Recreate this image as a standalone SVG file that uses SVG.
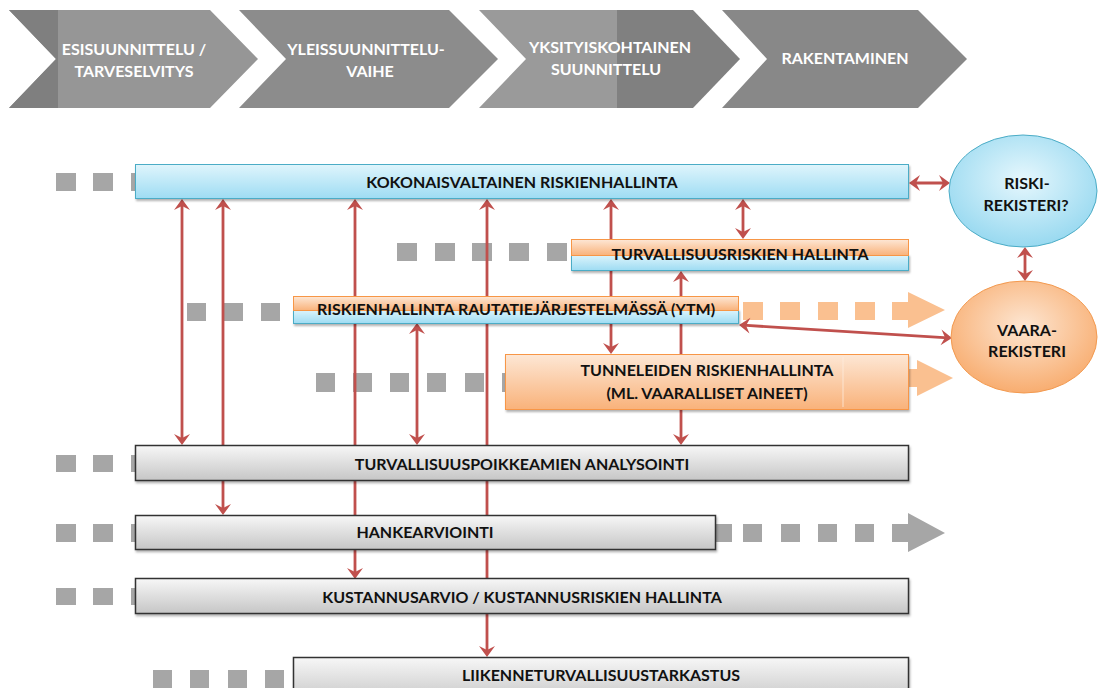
<svg xmlns="http://www.w3.org/2000/svg" width="1098" height="688" viewBox="0 0 1098 688">
<defs>
<style>
.ct{fill:#ffffff;font-family:Lato,"Liberation Sans",sans-serif;font-weight:700;font-size:16px;text-anchor:middle}
.lbl{fill:#111111;font-family:Lato,"Liberation Sans",sans-serif;font-weight:700;font-size:16px;text-anchor:middle}
.sq{fill:#a6a6a6}
.osq{fill:#fac090}
.conn{stroke:#c0504d;stroke-width:2.8;fill:none;marker-start:url(#ah);marker-end:url(#ah)}
.blue{fill:url(#gBlue);stroke:#4bacc6;stroke-width:1}
.org{fill:url(#gOrange);stroke:#f79646;stroke-width:1}
.gray{fill:url(#gGray);stroke:#333333;stroke-width:1.5}
</style>
<linearGradient id="gBlue" x1="0" y1="0" x2="0" y2="1"><stop offset="0" stop-color="#dff5fc"/><stop offset="1" stop-color="#9edcf3"/></linearGradient>
<linearGradient id="gOrange" x1="0" y1="0" x2="0" y2="1"><stop offset="0" stop-color="#fde7d5"/><stop offset="1" stop-color="#f9b27a"/></linearGradient>
<linearGradient id="gGray" x1="0" y1="0" x2="0" y2="1"><stop offset="0" stop-color="#f7f7f7"/><stop offset="1" stop-color="#c6c6c6"/></linearGradient>
<radialGradient id="eBlue" cx="0.5" cy="0.4" r="0.6"><stop offset="0" stop-color="#e6f7fd"/><stop offset="1" stop-color="#98d9f0"/></radialGradient>
<radialGradient id="eOrange" cx="0.5" cy="0.4" r="0.6"><stop offset="0" stop-color="#fde6d2"/><stop offset="1" stop-color="#f8ad70"/></radialGradient>
<filter id="sh" x="-5%" y="-20%" width="110%" height="160%"><feDropShadow dx="1" dy="2" stdDeviation="1.2" flood-color="#000000" flood-opacity="0.3"/></filter>
<marker id="ah" viewBox="-8 -9 13 18" refX="0" refY="0" markerWidth="13" markerHeight="18" markerUnits="userSpaceOnUse" orient="auto-start-reverse"><path d="M-7,-8 L4,0 L-7,8 L-3,0 z" fill="#c0504d"/></marker>
</defs>
<rect width="1098" height="688" fill="#ffffff"/>

<g id="phases">
 <g id="phase1">
  <polygon points="9,10 210,10 258,59 210,108 9,108 56,59" fill="#969696"/>
  <polygon points="9,10 58,10 58,108 9,108 56,59" fill="#7f7f7f"/>
  <text class="ct" x="134" y="55">ESISUUNNITTELU /</text>
  <text class="ct" x="134" y="77">TARVESELVITYS</text>
 </g>
 <g id="phase2">
  <polygon points="239,10 449,10 498,59 449,108 239,108 286,59" fill="#8c8c8c"/>
  <text class="ct" x="366" y="55">YLEISSUUNNITTELU-</text>
  <text class="ct" x="370" y="77">VAIHE</text>
 </g>
 <g id="phase3">
  <polygon points="479,10 617,10 617,108 479,108 526,59" fill="#9a9a9a"/>
  <polygon points="617,10 693,10 740,59 693,108 617,108" fill="#808080"/>
  <text class="ct" x="610" y="53">YKSITYISKOHTAINEN</text>
  <text class="ct" x="606" y="75">SUUNNITTELU</text>
 </g>
 <g id="phase4">
  <polygon points="722,10 918,10 967,59 918,108 722,108 767,59" fill="#888888"/>
  <text class="ct" x="845" y="64">RAKENTAMINEN</text>
 </g>
</g>

<g id="tracks">
 <rect class="sq" x="56" y="173" width="20" height="18"/><rect class="sq" x="93" y="173" width="20" height="18"/><rect class="sq" x="131" y="173" width="20" height="18"/>
 <rect class="sq" x="397" y="243" width="20" height="18"/><rect class="sq" x="435" y="243" width="20" height="18"/><rect class="sq" x="472" y="243" width="20" height="18"/><rect class="sq" x="509" y="243" width="20" height="18"/><rect class="sq" x="547" y="243" width="20" height="18"/>
 <rect class="sq" x="187" y="303" width="19" height="18"/><rect class="sq" x="224" y="303" width="19" height="18"/><rect class="sq" x="261" y="303" width="19" height="18"/>
 <rect class="osq" x="743" y="302" width="20" height="18"/><rect class="osq" x="780" y="302" width="20" height="18"/><rect class="osq" x="818" y="302" width="20" height="18"/><rect class="osq" x="855" y="302" width="20" height="18"/>
 <path class="osq" d="M892,302 H908 V292 L945,310 L908,328 V320 H892 Z"/>
 <rect class="sq" x="316" y="373" width="19" height="19"/><rect class="sq" x="353" y="373" width="19" height="19"/><rect class="sq" x="390" y="373" width="19" height="19"/><rect class="sq" x="427" y="373" width="19" height="19"/><rect class="sq" x="465" y="373" width="19" height="19"/><rect class="sq" x="502" y="373" width="19" height="19"/>
 <path class="osq" d="M905,369 H917 V360 L953,378 L917,396 V387 H905 Z"/>
 <rect class="sq" x="56" y="455" width="20" height="17"/><rect class="sq" x="93" y="455" width="20" height="17"/><rect class="sq" x="131" y="455" width="20" height="17"/>
 <rect class="sq" x="56" y="524" width="20" height="18"/><rect class="sq" x="93" y="524" width="20" height="18"/><rect class="sq" x="131" y="524" width="20" height="18"/>
 <rect class="sq" x="712" y="524" width="20" height="18"/><rect class="sq" x="743" y="524" width="19" height="18"/><rect class="sq" x="781" y="524" width="19" height="18"/><rect class="sq" x="818" y="524" width="19" height="18"/><rect class="sq" x="855" y="524" width="19" height="18"/>
 <path class="sq" d="M892,524 H908 V513 L945,533 L908,552 V542 H892 Z"/>
 <rect class="sq" x="56" y="588" width="20" height="17"/><rect class="sq" x="93" y="588" width="20" height="17"/><rect class="sq" x="131" y="588" width="20" height="17"/>
 <rect class="sq" x="153" y="670" width="19" height="19"/><rect class="sq" x="190" y="670" width="19" height="19"/><rect class="sq" x="228" y="670" width="19" height="19"/><rect class="sq" x="265" y="670" width="19" height="19"/>
</g>

<g id="connectors">
 <line class="conn" x1="182" y1="203" x2="182" y2="441"/>
 <line class="conn" x1="223" y1="203" x2="223" y2="511"/>
 <line class="conn" x1="355" y1="203" x2="355" y2="575"/>
 <line class="conn" x1="487" y1="203" x2="487" y2="653"/>
 <line class="conn" x1="611" y1="203" x2="611" y2="350"/>
 <line class="conn" x1="743" y1="203" x2="743" y2="235"/>
 <line class="conn" x1="681" y1="275" x2="681" y2="441"/>
 <line class="conn" x1="417" y1="327" x2="417" y2="441"/>
 <line class="conn" x1="913" y1="183" x2="946" y2="183"/>
 <line class="conn" x1="1025" y1="251" x2="1025" y2="277"/>
 <line class="conn" x1="743" y1="325.2" x2="948" y2="337.8"/>
</g>

<g id="n-kokonais">
 <rect class="blue" x="135.5" y="164.5" width="773" height="34" filter="url(#sh)"/>
 <text class="lbl" x="522" y="188">KOKONAISVALTAINEN RISKIENHALLINTA</text>
</g>
<g id="n-turvallisuusriskien">
 <rect class="blue" x="571.5" y="254.5" width="337" height="16" filter="url(#sh)"/>
 <rect class="org" x="571.5" y="239.5" width="337" height="16"/>
 <text class="lbl" x="740" y="260">TURVALLISUUSRISKIEN HALLINTA</text>
</g>
<g id="n-ytm">
 <rect class="blue" x="293.5" y="309.5" width="445" height="14" filter="url(#sh)"/>
 <rect class="org" x="293.5" y="296.5" width="445" height="14"/>
 <text class="lbl" x="516" y="315">RISKIENHALLINTA RAUTATIEJÄRJESTELMÄSSÄ (YTM)</text>
</g>
<g id="n-tunnelit">
 <rect class="org" x="505.5" y="354.5" width="403" height="55" filter="url(#sh)"/>
 <line x1="843" y1="357" x2="843" y2="407" stroke="#fdebdc" stroke-width="1" opacity="0.8"/>
 <text class="lbl" x="707" y="376">TUNNELEIDEN RISKIENHALLINTA</text>
 <text class="lbl" x="707" y="399">(ML. VAARALLISET AINEET)</text>
</g>
<g id="n-poikkeamat">
 <rect class="gray" x="135.5" y="445.5" width="773" height="35" filter="url(#sh)"/>
 <text class="lbl" x="522" y="470">TURVALLISUUSPOIKKEAMIEN ANALYSOINTI</text>
</g>
<g id="n-hankearviointi">
 <rect class="gray" x="135.5" y="515.5" width="580" height="34" filter="url(#sh)"/>
 <text class="lbl" x="425" y="538">HANKEARVIOINTI</text>
</g>
<g id="n-kustannus">
 <rect class="gray" x="135.5" y="578.5" width="773" height="35" filter="url(#sh)"/>
 <text class="lbl" x="522" y="603">KUSTANNUSARVIO / KUSTANNUSRISKIEN HALLINTA</text>
</g>
<g id="n-liikenne">
 <rect class="gray" x="293.5" y="657.5" width="615" height="45" filter="url(#sh)"/>
 <text class="lbl" x="601" y="681">LIIKENNETURVALLISUUSTARKASTUS</text>
</g>
<g id="n-riskirekisteri">
 <ellipse cx="1023" cy="191" rx="74" ry="56" fill="url(#eBlue)" stroke="#4bacc6" stroke-width="1"/>
 <text class="lbl" x="1027" y="189">RISKI-</text>
 <text class="lbl" x="1026" y="211">REKISTERI?</text>
</g>
<g id="n-vaararekisteri">
 <ellipse cx="1024" cy="337" rx="73" ry="56" fill="url(#eOrange)" stroke="#f39a50" stroke-width="1"/>
 <text class="lbl" x="1027" y="336">VAARA-</text>
 <text class="lbl" x="1027" y="357">REKISTERI</text>
</g>
</svg>
